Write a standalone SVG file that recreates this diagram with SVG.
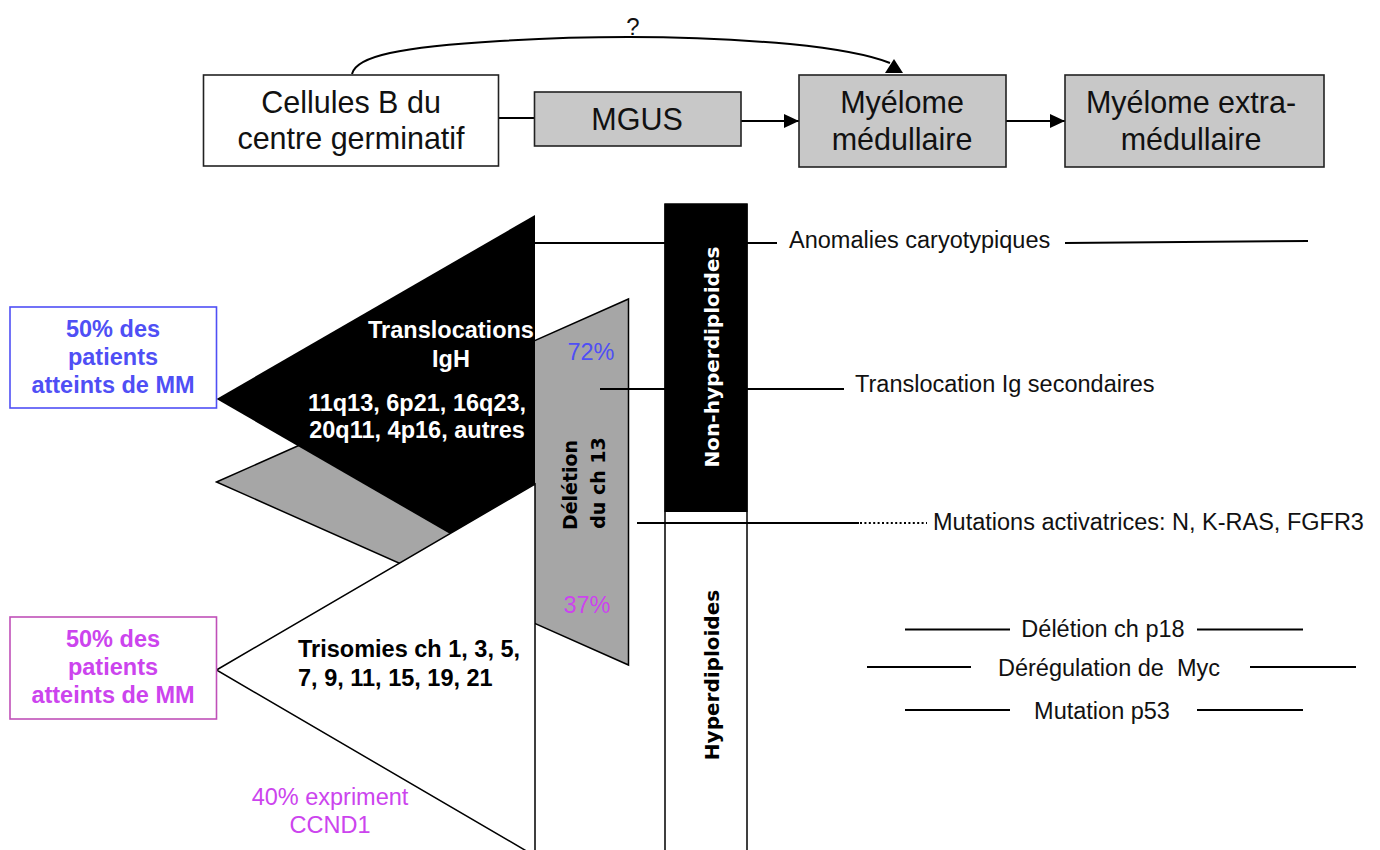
<svg xmlns="http://www.w3.org/2000/svg" width="1380" height="850" viewBox="0 0 1380 850">
<style>
.box{stroke:#222;stroke-width:1.6}
.top{font-family:"Liberation Sans",Arial,sans-serif;font-size:30.5px;fill:#111;text-anchor:middle}
.lbl{font-family:"Liberation Sans",Arial,sans-serif;font-size:23.5px;fill:#111}
.b{font-family:"Liberation Sans",Arial,sans-serif;font-size:23.5px;font-weight:bold}
.rot{font-family:"DejaVu Sans",Verdana,sans-serif;font-weight:bold;text-anchor:middle}
.ln{stroke:#000;stroke-width:2;fill:none}
.mid{text-anchor:middle}
.blue{fill:#4f4ff5}
.mag{fill:#cc44ee}
</style>
<defs>
<marker id="arr" markerUnits="userSpaceOnUse" markerWidth="15" markerHeight="14" viewBox="0 0 15 14" refX="15" refY="7" orient="auto">
<path d="M0,0 L15,7 L0,14 z" fill="#000"/>
</marker>
</defs>
<rect width="1380" height="850" fill="#fff"/>

<!-- connectors -->
<g id="connectors">
<path class="ln" d="M352,74 C356,56 400,47 500,41 C600,35 700,36 790,44 C840,49 870,55 890,63"/>
<polygon points="885,73 903,73 894,59" fill="#000"/>
<line class="ln" x1="498" y1="118" x2="535" y2="118"/>
<line class="ln" x1="741" y1="121" x2="799" y2="121" marker-end="url(#arr)"/>
<line class="ln" x1="1006" y1="121" x2="1065" y2="121" marker-end="url(#arr)"/>
</g>

<!-- top nodes -->
<g id="node-cellules">
<rect class="box" x="203.5" y="75" width="295" height="91" fill="#fff"/>
<text class="top" x="351" y="113">Cellules B du</text>
<text class="top" x="351" y="149">centre germinatif</text>
</g>
<g id="node-mgus">
<rect class="box" x="534.5" y="92" width="206.5" height="54" fill="#c8c8c8"/>
<text class="top" x="637" y="130">MGUS</text>
</g>
<g id="node-mm">
<rect class="box" x="799" y="75" width="207" height="92" fill="#c8c8c8"/>
<text class="top" x="902" y="113">Myélome</text>
<text class="top" x="902" y="150">médullaire</text>
</g>
<g id="node-mmext">
<rect class="box" x="1065" y="75" width="259" height="92" fill="#c8c8c8"/>
<text class="top" x="1191" y="113">Myélome extra-</text>
<text class="top" x="1191" y="150">médullaire</text>
</g>
<g id="question">
<text x="633" y="35" style="font-family:'Liberation Sans',Arial,sans-serif;font-size:24px;fill:#111;text-anchor:middle">?</text>
</g>

<!-- triangles -->
<g id="deletion">
<polygon points="216.5,482 628.5,299 628.5,665" fill="#a6a6a6" stroke="#000" stroke-width="1.5"/>
</g>
<g id="translocations">
<polygon points="216.5,399 535,215 535,583" fill="#000"/>
<text class="b mid" x="451" y="338" fill="#fff">Translocations</text>
<text class="b mid" x="451" y="367" fill="#fff">IgH</text>
<text class="b mid" x="417" y="411" fill="#fff">11q13, 6p21, 16q23,</text>
<text class="b mid" x="417" y="438" fill="#fff">20q11, 4p16, autres</text>
</g>
<g id="trisomies">
<polygon points="216.5,670 535,484 535,856" fill="#fff" stroke="#000" stroke-width="1.5"/>
<text class="b" x="298" y="657" fill="#000">Trisomies ch 1, 3, 5,</text>
<text class="b" x="298" y="686" fill="#000">7, 9, 11, 15, 19, 21</text>
</g>
<g id="deletion-labels">
<text class="rot" font-size="19" transform="translate(577,485) rotate(-90)" fill="#000">Délétion</text>
<text class="rot" font-size="19" transform="translate(605,483) rotate(-90)" fill="#000">du ch 13</text>
<text class="lbl mid blue" x="591" y="360">72%</text>
<text class="lbl mid mag" x="587" y="613">37%</text>
</g>

<!-- patient boxes -->
<g id="node-patients-blue">
<rect x="10" y="307" width="206.5" height="101" fill="#fff" stroke="#4f4ff5" stroke-width="1.6"/>
<text class="b mid blue" x="113" y="337">50% des</text>
<text class="b mid blue" x="113" y="365">patients</text>
<text class="b mid blue" x="113" y="393">atteints de MM</text>
</g>
<g id="node-patients-mag">
<rect x="10" y="617" width="206.5" height="102" fill="#fff" stroke="#c050b8" stroke-width="1.6"/>
<text class="b mid mag" x="113" y="647">50% des</text>
<text class="b mid mag" x="113" y="675">patients</text>
<text class="b mid mag" x="113" y="703">atteints de MM</text>
</g>
<g id="ccnd1">
<text class="lbl mid mag" x="330" y="805">40% expriment</text>
<text class="lbl mid mag" x="330" y="833">CCND1</text>
</g>

<!-- ploidy bars -->
<g id="node-hyper">
<rect x="665" y="204" width="82" height="660" fill="#fff" stroke="#000" stroke-width="1.5"/>
<text class="rot" font-size="20" transform="translate(719,675) rotate(-90)" fill="#000">Hyperdiploides</text>
</g>
<g id="node-nonhyper">
<rect x="664.5" y="204" width="83" height="308" fill="#000"/>
<text class="rot" font-size="20" transform="translate(719,357) rotate(-90)" fill="#fff">Non-hyperdiploides</text>
</g>

<!-- right annotations -->
<g id="annotation-lines">
<line class="ln" x1="535" y1="243" x2="665" y2="243"/>
<line class="ln" x1="747" y1="243" x2="777" y2="243"/>
<line class="ln" x1="1065" y1="243" x2="1308" y2="241"/>
<line class="ln" x1="600" y1="389" x2="665" y2="389"/>
<line class="ln" x1="747" y1="389" x2="844" y2="389"/>
<line class="ln" x1="637" y1="523" x2="859" y2="523"/>
<line x1="860" y1="523" x2="927" y2="523" stroke="#000" stroke-width="2" stroke-dasharray="2 2.4"/>
<line class="ln" x1="905" y1="629.5" x2="1010" y2="629.5"/>
<line class="ln" x1="1197" y1="629.5" x2="1303" y2="629.5"/>
<line class="ln" x1="867" y1="667" x2="971" y2="667"/>
<line class="ln" x1="1250" y1="667" x2="1356" y2="667"/>
<line class="ln" x1="905" y1="710" x2="1010" y2="710"/>
<line class="ln" x1="1197" y1="710" x2="1303" y2="710"/>
</g>
<g id="annotation-texts">
<text class="lbl" x="789" y="248">Anomalies caryotypiques</text>
<text class="lbl" x="855" y="392">Translocation Ig secondaires</text>
<text class="lbl" x="933" y="530">Mutations activatrices: N, K-RAS, FGFR3</text>
<text class="lbl mid" x="1103" y="637">Délétion ch p18</text>
<text class="lbl mid" x="1109" y="676">Dérégulation de&#160; Myc</text>
<text class="lbl mid" x="1102" y="719">Mutation p53</text>
</g>
</svg>
